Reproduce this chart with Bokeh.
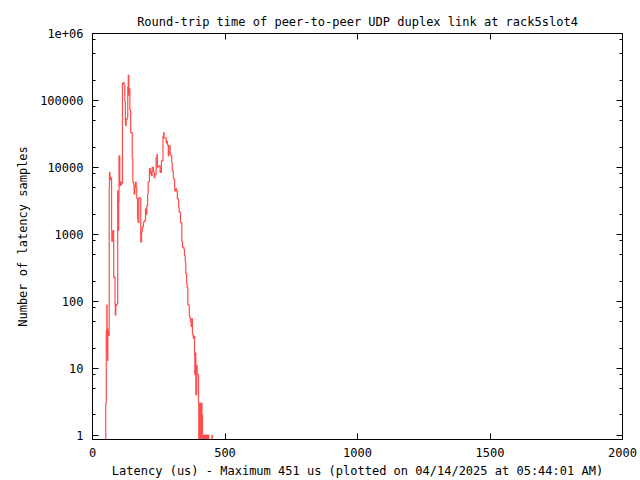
import numpy as np
from bokeh.plotting import figure
from bokeh.models import FixedTicker, LogAxis, LinearAxis, Range1d
from bokeh.embed import file_html
from bokeh.resources import INLINE

TITLE = "Round-trip time of peer-to-peer UDP duplex link at rack5slot4"
X_LABEL = "Latency (us) - Maximum 451 us (plotted on 04/14/2025 at 05:44:01 AM)"
Y_LABEL = "Number of latency samples"

x_ticks = [0, 500, 1000, 1500, 2000]
x_tick_labels = ["0", "500", "1000", "1500", "2000"]
y_ticks = [1, 10, 100, 1000, 10000, 100000, 1000000]
y_tick_labels = ["1", "10", "100", "1000", "10000", "100000", "1e+06"]
y_minor_steps = [2, 5, 8]

latency_us = [
    48, 50, 52, 54, 55, 56, 57, 58, 60, 63,
    64, 66, 68, 70, 72, 73, 75, 78, 80, 83,
    85, 86, 88, 90, 93, 95, 96, 97, 98, 99,
    100, 102, 103, 105, 108, 110, 113, 116, 119, 122,
    124, 125, 127, 129, 131, 133, 135, 137, 138, 141,
    144, 148, 150, 152, 155, 157, 160, 162, 165, 167,
    170, 172, 175, 180, 182, 185, 188, 192, 195, 200,
    203, 205, 208, 210, 215, 218, 220, 223, 225, 230,
    233, 235, 240, 243, 245, 248, 253, 255, 260, 266,
    268, 270, 276, 278, 280, 283, 286, 288, 293, 296,
    299, 301, 305, 307, 310, 315, 317, 320, 325, 327,
    332, 337, 340, 345, 347, 350, 352, 355, 357, 360,
    365, 367, 370, 372, 375, 377, 380, 383, 385, 386,
    388, 390, 393, 395, 398,
    400, 401, 402, 403, 404, 405, 406, 407, 408, 409,
    410, 411, 412, 413, 414, 415, 416, 417, 418, 419,
    420, 421, 422, 423, 424, 425, 426, 427, 428, 429,
    430, 431, 432, 433, 434, 435, 436, 437, 438, 439,
    450, 451, 452,
]

sample_counts = [
    0, 3, 37, 88, 17, 40, 13, 36, 31, 5000,
    8400, 7200, 6500, 7000, 1140, 780, 1100, 1140, 226, 230,
    91, 62, 85, 90, 92, 4450, 1520, 2500, 1140, 3000,
    14900, 14900, 5300, 6000, 5500, 5800, 180000, 185000, 170000, 97000,
    46000, 42000, 52000, 52000, 55000, 160000, 240000, 120000, 150000, 72000,
    33000, 33000, 13500, 6000, 5500, 4000, 5000, 6000, 5000, 3440,
    1740, 1500, 3550, 3400, 770, 1080, 1280, 1500, 1600, 2400,
    2000, 2680, 4000, 6100, 9600, 8000, 8600, 7500, 10000, 8600,
    7000, 7800, 14000, 15600, 10000, 10500, 10500, 8400, 12500, 29000,
    33000, 27600, 27600, 23300, 24500, 21500, 14900, 21000, 15700, 14900,
    11700, 8900, 7000, 6600, 4450, 4800, 4450, 3400, 2540, 2140,
    1500, 770, 640, 600, 485, 385, 260, 184, 160, 88,
    62, 56, 50, 42, 55, 32, 28, 30, 16, 8,
    17, 4, 11, 8, 8,
    3, 0, 2, 3, 1, 0, 2, 3, 0, 1,
    2, 0, 3, 1, 2, 0, 1, 1, 0, 1,
    0, 1, 0, 0, 1, 0, 1, 0, 1, 0,
    0, 1, 0, 1, 0, 1, 1, 0, 1, 0,
    0, 1, 0,
]

FONT = "DejaVu Sans Mono"
FS = "12px"

p = figure(width=640, height=480, y_axis_type="log",
           x_range=Range1d(0, 2000), y_range=Range1d(0.86, 1e6),
           output_backend="svg", toolbar_location=None,
           min_border_left=92, min_border_right=18,
           min_border_top=33, min_border_bottom=38)

bottom = p.below[0]
left = p.left[0]

p.grid.visible = False
p.outline_line_color = "black"
p.outline_line_width = 1
p.background_fill_color = "white"
p.border_fill_color = "white"

p.title.text = TITLE
p.title.align = "center"
p.title.vertical_align = "top"
p.title.text_font = FONT
p.title.text_font_size = FS
p.title.text_font_style = "normal"
p.title.text_color = "black"
p.title.standoff = 5

y_minor = [m * t for t in y_ticks[:-1] for m in y_minor_steps]

xt = FixedTicker(ticks=x_ticks, minor_ticks=[])
yt = FixedTicker(ticks=y_ticks, minor_ticks=y_minor)

right = LogAxis()
top = LinearAxis()
p.add_layout(right, "right")
p.add_layout(top, "above")

bottom.ticker = xt
top.ticker = xt
bottom.major_label_overrides = {v: s for v, s in zip(x_ticks, x_tick_labels)}
top.major_label_overrides = {v: "" for v in x_ticks}
left.ticker = yt
right.ticker = yt
left.major_label_overrides = {v: s for v, s in zip(y_ticks, y_tick_labels)}
right.major_label_overrides = {v: "" for v in y_ticks}

for ax in [bottom, left, right, top]:
    ax.axis_line_color = "black"
    ax.axis_line_width = 1
    ax.major_tick_line_color = "black"
    ax.minor_tick_line_color = "black"
    ax.major_tick_in = 6
    ax.major_tick_out = 0
    ax.minor_tick_in = 3
    ax.minor_tick_out = 0
    ax.major_label_text_font = FONT
    ax.major_label_text_font_size = FS
    ax.major_label_text_color = "black"
    ax.axis_label_text_font = FONT
    ax.axis_label_text_font_size = FS
    ax.axis_label_text_font_style = "normal"
    ax.axis_label_text_color = "black"

for ax in [right, top]:
    ax.major_label_standoff = 0

bottom.axis_label = X_LABEL
bottom.major_label_standoff = 8
bottom.axis_label_standoff = 4
left.axis_label = Y_LABEL
left.major_label_standoff = 9
left.axis_label_standoff = 7

x = np.array(latency_us, dtype=float)
c = np.array(sample_counts, dtype=float)
# zero counts cannot be shown on a log axis; send them below the frame (clipped)
y_disp = np.where(c > 0, c, 0.3)

p.step(x, y_disp, mode="after", line_color="#ff4d4d", line_width=1.2)

open("out.html", "w").write(file_html(p, INLINE))
